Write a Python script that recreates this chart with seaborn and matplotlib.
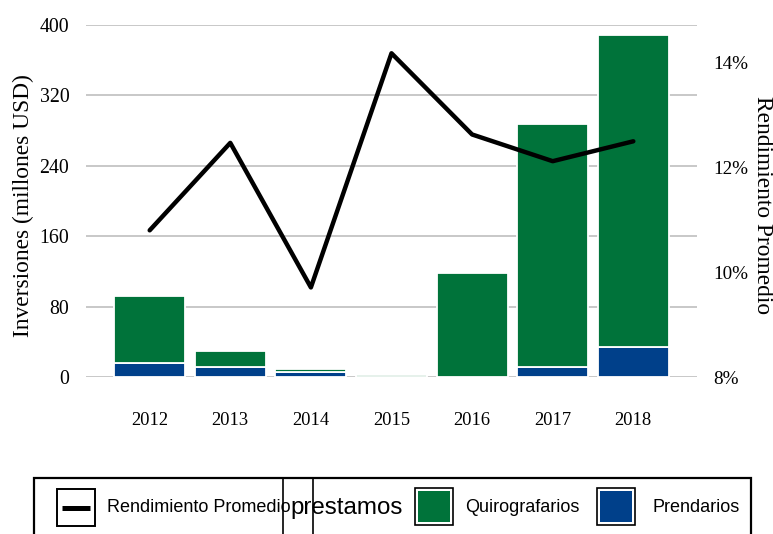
import matplotlib
matplotlib.use("Agg")
import matplotlib.pyplot as plt
from matplotlib.patches import Rectangle
from matplotlib.lines import Line2D
from matplotlib.ticker import FuncFormatter
import seaborn as sns
import numpy as np
import pandas as pd

years = ["2012", "2013", "2014", "2015", "2016", "2017", "2018"]
prendarios = [16, 11.5, 6, 0, 0, 11, 34]
quirografarios = [76, 18, 3, 2.5, 118, 276, 355]
rendimiento = [10.80, 12.47, 9.71, 14.18, 12.63, 12.12, 12.50]
left_ticks = [0, 80, 160, 240, 320, 400]
right_ticks = [8, 10, 12, 14]

GREEN = "#00733A"
BLUE = "#00408A"

sns.set_style("white")
plt.rcParams["font.family"] = ["Liberation Serif", "DejaVu Serif"]
plt.rcParams["text.color"] = "black"
plt.rcParams["axes.labelcolor"] = "black"
plt.rcParams["xtick.color"] = "black"
plt.rcParams["ytick.color"] = "black"

W, H = 773, 534
fig = plt.figure(figsize=(W / 100, H / 100), dpi=100)

def fx(x):
    return x / W

def fy(y):
    return 1 - y / H

AX_L, AX_R, AX_T, AX_B = 86, 697, 25, 377
ax = fig.add_axes([fx(AX_L), fy(AX_B), (AX_R - AX_L) / W, (AX_B - AX_T) / H])

df = pd.DataFrame({"year": years, "prend": prendarios, "quiro": quirografarios,
                   "rend": rendimiento})

sns.barplot(data=df, x="year", y="prend", color=BLUE, saturation=1, width=0.88,
            edgecolor="white", linewidth=1.3, errorbar=None, ax=ax, zorder=2)
sns.barplot(data=df, x="year", y="quiro", bottom=df["prend"].values, color=GREEN,
            saturation=1, width=0.88, edgecolor="white", linewidth=1.3,
            errorbar=None, ax=ax, zorder=2)

ax.set_ylim(0, 400)
ax.set_yticks(left_ticks)
ax.grid(axis="y", color="#C8C8C8", linewidth=1.4)
ax.grid(axis="x", visible=False)
ax.set_axisbelow(True)
for s in ax.spines.values():
    s.set_visible(False)
ax.tick_params(axis="both", length=0, colors="black")
ax.tick_params(axis="x", pad=25, labelsize=13.3)
ax.tick_params(axis="y", pad=12, labelsize=14.3)
ax.set_xlabel("")
ax.set_ylabel("Inversiones (millones USD)", fontsize=16.8, va="center",
              ha="center", color="black")
ax.yaxis.set_label_coords((23 - AX_L) / (AX_R - AX_L), (AX_B - 206) / (AX_B - AX_T))

ax2 = ax.twinx()
sns.lineplot(x=np.arange(len(years)), y=df["rend"].values, color="black",
             linewidth=3.2, ax=ax2, zorder=5)
ax2.set_ylim(8, 14.72)
ax2.set_yticks(right_ticks)
ax2.yaxis.set_major_formatter(FuncFormatter(lambda v, p: f"{v:.0f}%"))
ax2.grid(False)
for s in ax2.spines.values():
    s.set_visible(False)
ax2.tick_params(axis="y", length=0, labelsize=13.8, pad=12, colors="black")
ax2.set_ylabel("Rendimiento Promedio", fontsize=16.8, rotation=270,
               va="center", ha="center", color="black")
ax2.yaxis.set_label_coords((762 - AX_L) / (AX_R - AX_L), (AX_B - 205) / (AX_B - AX_T))
ax.set_xlim(-0.79, 6.79)

# Legend (drawn manually)
def rect_px(x0, y0, x1, y1, **kw):
    r = Rectangle((fx(x0), fy(y1)), (x1 - x0) / W, (y1 - y0) / H,
                  transform=fig.transFigure, clip_on=False, **kw)
    fig.add_artist(r)
    return r

rect_px(34, 478, 751, 560, facecolor="white", edgecolor="black", linewidth=1.6)
rect_px(283, 478, 313, 560, facecolor="none", edgecolor="black", linewidth=1.2)

# line handle
rect_px(57, 489, 95, 526, facecolor="white", edgecolor="black", linewidth=1.4)
fig.add_artist(Line2D([fx(62), fx(90)], [fy(507.5), fy(507.5)], color="black",
                      linewidth=3.6, solid_capstyle="butt",
                      transform=fig.transFigure))
# green handle
rect_px(415, 488, 453, 525, facecolor="white", edgecolor="black", linewidth=1.2)
rect_px(418, 491, 450, 522, facecolor=GREEN, edgecolor="none")
# blue handle
rect_px(597, 488, 635, 525, facecolor="white", edgecolor="black", linewidth=1.2)
rect_px(600, 491, 632, 522, facecolor=BLUE, edgecolor="none")

sans = ["Liberation Sans", "DejaVu Sans"]
fig.text(fx(107), fy(508), "Rendimiento Promedio", family=sans, fontsize=13,
         va="center", ha="left", color="black")
fig.text(fx(290), fy(508), "prestamos", family=sans, fontsize=17.4,
         va="center", ha="left", color="black")
fig.text(fx(465), fy(508), "Quirografarios", family=sans, fontsize=13,
         va="center", ha="left", color="black")
fig.text(fx(652), fy(508), "Prendarios", family=sans, fontsize=13,
         va="center", ha="left", color="black")

fig.savefig("out.png", dpi=100)
